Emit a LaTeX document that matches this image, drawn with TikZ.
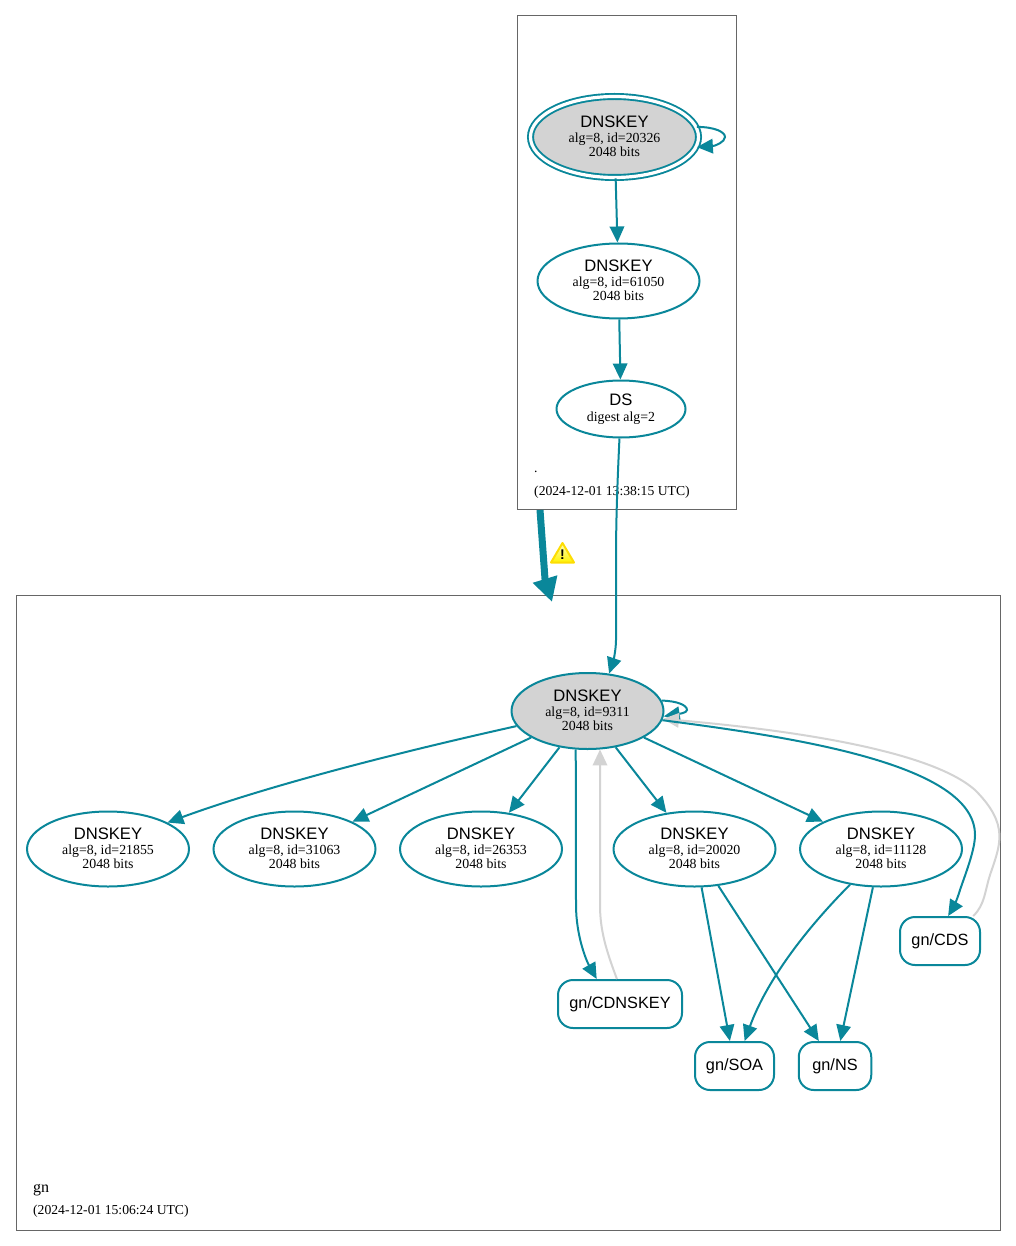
\documentclass[tikz,border=0pt]{standalone}
\usepackage{fontspec}
\setmainfont{Liberation Serif}
\setsansfont{Liberation Sans}
\usetikzlibrary{arrows.meta, shapes.geometric}

\definecolor{edgeteal}{HTML}{0A879A}
\definecolor{revokegray}{HTML}{D3D3D3}

% title line of a key node
\newcommand{\keytitle}[1]{{\fontsize{16.6}{14}\sffamily #1}}

\begin{document}
\begin{tikzpicture}[
    x=1pt, y=-1pt,
    zone/.style={draw=black!60, line width=0.9pt, inner sep=0, anchor=north west},
    zonetext/.style={anchor=base west, inner sep=0, font=\fontsize{13.65}{14}\selectfont},
    key/.style={ellipse, draw=edgeteal, line width=2pt, inner sep=0, text depth=2.4pt,
      minimum width=162pt, minimum height=75pt, align=center,
      font=\fontsize{13.85}{13.7}\selectfont},
    signed/.style={fill=revokegray},
    rrset/.style={rectangle, rounded corners=15pt, draw=edgeteal, line width=2pt,
      inner sep=0, minimum height=48pt, font=\fontsize{16.3}{18}\sffamily},
    link/.style={draw=edgeteal, line width=2pt, -{Triangle[length=16pt, width=14.5pt]}},
    graylink/.style={draw=revokegray, line width=2pt, -{Triangle[length=16pt, width=14.5pt]}}
  ]
  \useasboundingbox (0, 0) rectangle (1016, 1246);

  % zones
  \node (rootzone) [zone, minimum width=219pt, minimum height=494pt] at (516.8, 15) {};
  \node (gnzone) [zone, minimum width=984pt, minimum height=635pt] at (15.6, 594.6) {};
  \node (rootname) [zonetext] at (534, 472) {.};
  \node (rootdate) [zonetext] at (534, 495) {(2024-12-01 13:38:15 UTC)};
  \node (gnname) [zonetext, font=\fontsize{16}{16}\selectfont] at (33, 1192) {gn};
  \node (gndate) [zonetext] at (33, 1214) {(2024-12-01 15:06:24 UTC)};

  % keys of the root
  \node (rootksk) [key, signed, double=white, double distance=3.2pt, line width=1.9pt,
    minimum width=168pt, minimum height=81pt] at (614.5, 137)
    {\keytitle{DNSKEY}\\[1.5pt]alg=8, id=20326\\2048 bits};
  \node (rootzsk) [key] at (618.5, 281) {\keytitle{DNSKEY}\\[1.5pt]alg=8, id=61050\\2048 bits};
  \node (rootds) [key, minimum width=129pt, minimum height=57pt] at (621, 409)
    {\keytitle{DS}\\[1.5pt]digest alg=2};

  % keys of gn
  \node (gnksk) [key, signed, minimum width=152pt, minimum height=76pt] at (587.5, 711)
    {\keytitle{DNSKEY}\\[1.5pt]alg=8, id=9311\\2048 bits};
  \node (key21855) [key] at (108, 849) {\keytitle{DNSKEY}\\[1.5pt]alg=8, id=21855\\2048 bits};
  \node (key31063) [key] at (294.5, 849) {\keytitle{DNSKEY}\\[1.5pt]alg=8, id=31063\\2048 bits};
  \node (key26353) [key] at (481, 849) {\keytitle{DNSKEY}\\[1.5pt]alg=8, id=26353\\2048 bits};
  \node (key20020) [key] at (694.5, 849) {\keytitle{DNSKEY}\\[1.5pt]alg=8, id=20020\\2048 bits};
  \node (key11128) [key] at (881, 849) {\keytitle{DNSKEY}\\[1.5pt]alg=8, id=11128\\2048 bits};

  % record sets
  \node (cds) [rrset, minimum width=80pt] at (940, 941) {gn/CDS};
  \node (cdnskey) [rrset, minimum width=124pt] at (620, 1004) {gn/CDNSKEY};
  \node (soa) [rrset, minimum width=79pt] at (734.5, 1066) {gn/SOA};
  \node (ns) [rrset, minimum width=72.5pt] at (835, 1066) {gn/NS};

  % edges inside the root
  \draw [link] (rootksk.7) .. controls (715, 127) and (725, 132) .. (725, 137)
    .. controls (725, 142) and (715, 146) .. (rootksk.-7);
  \draw [link] (rootksk) -- (rootzsk);
  \draw [link] (rootzsk) -- (rootds);

  % delegation from the root to gn
  \coordinate (delegationstart) at (540, 510);
  \coordinate (delegationbend) at (545, 579);
  \coordinate (delegationend) at (552, 602);
  \draw [draw=edgeteal, line width=7pt, -{Triangle[length=24pt, width=24pt, sep=0pt]}]
    (delegationstart) -- (delegationbend) -- (delegationend);
  \draw [link] (rootds.267) .. controls (617, 490) and (616, 525) .. (616, 560)
    -- (616, 640) .. controls (616, 650) and (613, 662) .. (gnksk.60);

  % warning sign
  \draw [top color=yellow!25, bottom color=yellow!90!orange, draw=yellow!80!orange,
    line width=2pt, line join=round]
    (551, 562.5) -- (562.5, 543) -- (574, 562.5) -- cycle;
  \node (warning) [inner sep=0, font=\fontsize{14}{14}\sffamily\bfseries] at (562.5, 554.5) {!};

  % self signature of gn
  \draw [link] (gnksk.8) .. controls (677, 701) and (687, 705) .. (687, 710)
    .. controls (687, 713) and (678, 714) .. (gnksk.-4);

  % edges from the gn key
  \draw [link] (gnksk.192) .. controls (400, 752) and (270, 785) .. (key21855.24);
  \draw [link] (gnksk) -- (key31063);
  \draw [link] (gnksk) -- (key26353);
  \draw [link] (gnksk) -- (key20020);
  \draw [link] (gnksk) -- (key11128);
  \draw [link] (gnksk.253) -- (576, 905) .. controls (576, 935) and (586, 960) .. (cdnskey.133);

  % edges to the record sets
  \draw [link] (key20020) -- (soa);
  \draw [link] (key20020) -- (ns);
  \draw [link] (key11128.229) .. controls (800, 935) and (765, 985) .. (soa.68);
  \draw [link] (key11128) -- (ns);

  % light edges back to the gn key
  \draw [graylink] (cdnskey.97) .. controls (606, 950) and (600, 930) .. (600, 905) -- (gnksk.-72);
  \draw [graylink] (cds.37) .. controls (985, 905) and (985, 890) .. (990, 875)
    .. controls (1000, 845) and (1010, 825) .. (975, 790)
    .. controls (930, 750) and (790, 730) .. (gnksk.-6);

  % edge from the gn key to its CDS, above the light one
  \draw [link] (gnksk.-7) .. controls (800, 738) and (975, 765) .. (975, 835)
    .. controls (975, 850) and (965, 875) .. (960, 890)
    .. controls (957, 900) and (953, 908) .. (cds.72);
\end{tikzpicture}
\end{document}
